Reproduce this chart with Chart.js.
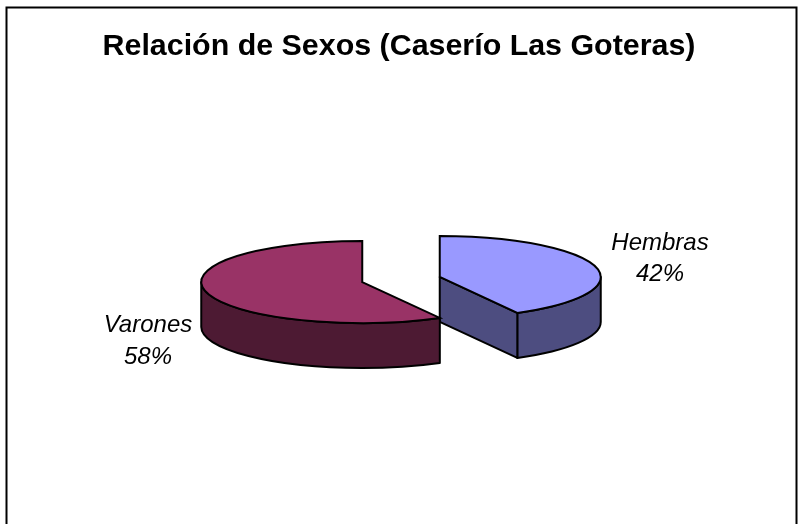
<!DOCTYPE html>
<html><head><meta charset="utf-8">
<style>html,body{margin:0;padding:0;background:#fff;overflow:hidden}canvas{display:block}</style>
<script src="https://cdn.jsdelivr.net/npm/chart.js@4"></script>
</head><body><canvas id="c" width="798" height="524"></canvas>
<script>
const categories = ['Hembras', 'Varones'];
const values = [42, 58];
const topColors = ['#9999FF', '#993366'];
const sideColors = ['#4D4D80', '#4D1A33'];
const chartTitle = 'Relación de Sexos (Caserío Las Goteras)';

const CX = 401, CY = 279.5, SQUASH = 41 / 161, DEPTH = 45, LINE = 2, EXPLODE = 40;
const labelSpots = [[660, 243, 274], [148, 325, 357]];
const labelFont = 'italic 24px "Liberation Sans", Arial, sans-serif';

function geom(chart, arc) {
  const tx = CX - chart.$pieX, ty = CY - chart.$pieY * SQUASH;
  return { a0: arc.startAngle, a1: arc.endAngle, ox: arc.x + tx, oy: arc.y * SQUASH + ty,
           rx: arc.outerRadius, ry: arc.outerRadius * SQUASH, tx, ty };
}
const pie3d = {
  id: 'pie3d',
  afterDatasetsUpdate(chart) {
    chart.getDatasetMeta(0).data.forEach(arc => {
      const mid = (arc.startAngle + arc.endAngle) / 2;
      chart.$pieX = arc.x; chart.$pieY = arc.y;
      arc.x += Math.cos(mid) * EXPLODE;
      arc.y += Math.sin(mid) * EXPLODE;
    });
  },
  beforeDraw(chart) {
    const c = chart.ctx;
    c.save(); c.strokeStyle = '#000'; c.lineWidth = 2;
    c.beginPath(); c.moveTo(6.5, 530); c.lineTo(6.5, 7.5); c.lineTo(796.5, 7.5); c.lineTo(796.5, 530); c.stroke();
    c.restore();
  },
  beforeDatasetsDraw(chart) {
    const c = chart.ctx;
    c.save(); c.strokeStyle = '#000'; c.lineWidth = LINE; c.lineJoin = 'round';
    chart.getDatasetMeta(0).data.forEach((arc, i) => {
      const g = geom(chart, arc);
      c.fillStyle = sideColors[i];
      const a0 = Math.max(g.a0, 0), a1 = Math.min(g.a1, Math.PI);
      if (a1 > a0) {
        c.beginPath();
        c.ellipse(g.ox, g.oy, g.rx, g.ry, 0, a0, a1);
        c.ellipse(g.ox, g.oy + DEPTH, g.rx, g.ry, 0, a1, a0, true);
        c.closePath(); c.fill(); c.stroke();
      }
      if (g.a0 < 0) { // front cut face of the slice that starts at twelve o'clock
        const tipX = g.ox + g.rx * Math.cos(g.a1), tipY = g.oy + g.ry * Math.sin(g.a1);
        c.beginPath(); c.moveTo(g.ox, g.oy); c.lineTo(tipX, tipY); c.lineTo(tipX, tipY + DEPTH);
        c.lineTo(g.ox, g.oy + DEPTH); c.closePath(); c.fill(); c.stroke();
      }
    });
    c.restore();
    const g0 = geom(chart, chart.getDatasetMeta(0).data[0]);
    c.save(); c.transform(1, 0, 0, SQUASH, g0.tx, g0.ty);
  },
  afterDatasetsDraw(chart) {
    const c = chart.ctx;
    c.restore();
    c.save(); c.strokeStyle = '#000'; c.lineWidth = LINE; c.lineJoin = 'miter';
    chart.getDatasetMeta(0).data.forEach(arc => {
      const g = geom(chart, arc);
      c.beginPath(); c.moveTo(g.ox, g.oy);
      c.ellipse(g.ox, g.oy, g.rx, g.ry, 0, g.a0, g.a1);
      c.closePath(); c.stroke();
    });
    c.fillStyle = '#000'; c.font = labelFont; c.textAlign = 'center'; c.textBaseline = 'middle';
    categories.forEach((name, i) => {
      c.fillText(name, labelSpots[i][0], labelSpots[i][1]);
      c.fillText(values[i] + '%', labelSpots[i][0], labelSpots[i][2]);
    });
    c.restore();
  }
};
new Chart(document.getElementById('c'), {
  type: 'pie',
  data: { labels: categories, datasets: [{ data: values, backgroundColor: topColors, borderWidth: 0, radius: 161 }] },
  options: {
    responsive: false, animation: false, events: [],
    plugins: {
      legend: { display: false }, tooltip: { enabled: false },
      title: { display: true, text: chartTitle, color: '#000', padding: { top: 28, bottom: 10 },
        font: { family: '"Liberation Sans", Arial, sans-serif', size: 30.4, weight: 'bold' } }
    }
  },
  plugins: [pie3d]
});
</script></body></html>
